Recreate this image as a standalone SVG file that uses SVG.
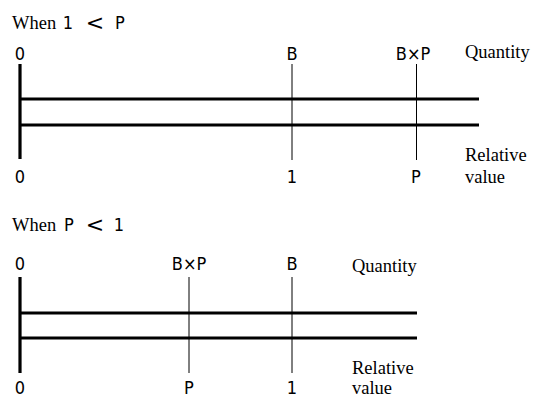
<svg xmlns="http://www.w3.org/2000/svg" width="535" height="398" viewBox="0 0 535 398">
<style>
.s{font-family:"DejaVu Sans Condensed","DejaVu Sans",sans-serif;font-size:18px;fill:#000;text-anchor:middle}
.r{font-family:"Liberation Serif",serif;font-size:18.5px;fill:#000}
.lt{font-family:"DejaVu Sans",sans-serif;font-size:22px;fill:#000;text-anchor:middle}
.thick{stroke:#000;stroke-width:3.2;fill:none}
.thin{stroke:#000;stroke-width:1;fill:none}
</style>
<rect width="535" height="398" fill="#fff"/>
<g id="diagram1">
<text class="r" x="12" y="29">When</text>
<text class="s" x="68" y="29">1</text>
<text class="lt" x="95" y="30">&lt;</text>
<text class="s" x="120" y="29">P</text>
<g id="connectors1">
<line class="thick" x1="20" y1="64" x2="20" y2="159"/>
<line class="thick" x1="20" y1="99" x2="479" y2="99"/>
<line class="thick" x1="20" y1="125" x2="479" y2="125"/>
<line class="thin" x1="292" y1="64" x2="292" y2="160"/>
<line class="thin" x1="416.5" y1="64" x2="416.5" y2="160"/>
</g>
<text class="s" x="20" y="60">0</text>
<text class="s" x="292" y="60">B</text>
<text class="s" x="413" y="60">B×P</text>
<text class="r" x="465" y="58">Quantity</text>
<text class="s" x="20" y="183">0</text>
<text class="s" x="292" y="183">1</text>
<text class="s" x="416" y="183">P</text>
<text class="r" x="465" y="161">Relative</text>
<text class="r" x="465" y="183">value</text>
</g>
<g id="diagram2">
<text class="r" x="12" y="231">When</text>
<text class="s" x="69" y="231">P</text>
<text class="lt" x="95" y="232">&lt;</text>
<text class="s" x="119" y="231">1</text>
<g id="connectors2">
<line class="thick" x1="20" y1="277" x2="20" y2="373"/>
<line class="thick" x1="20" y1="313" x2="417" y2="313"/>
<line class="thick" x1="20" y1="338" x2="417" y2="338"/>
<line class="thin" x1="189" y1="277" x2="189" y2="373"/>
<line class="thin" x1="292" y1="277" x2="292" y2="373"/>
</g>
<text class="s" x="20" y="270">0</text>
<text class="s" x="189" y="270">B×P</text>
<text class="s" x="292" y="270">B</text>
<text class="r" x="352" y="272">Quantity</text>
<text class="s" x="20" y="394">0</text>
<text class="s" x="189" y="394">P</text>
<text class="s" x="292" y="394">1</text>
<text class="r" x="352" y="374">Relative</text>
<text class="r" x="352" y="394">value</text>
</g>
</svg>
